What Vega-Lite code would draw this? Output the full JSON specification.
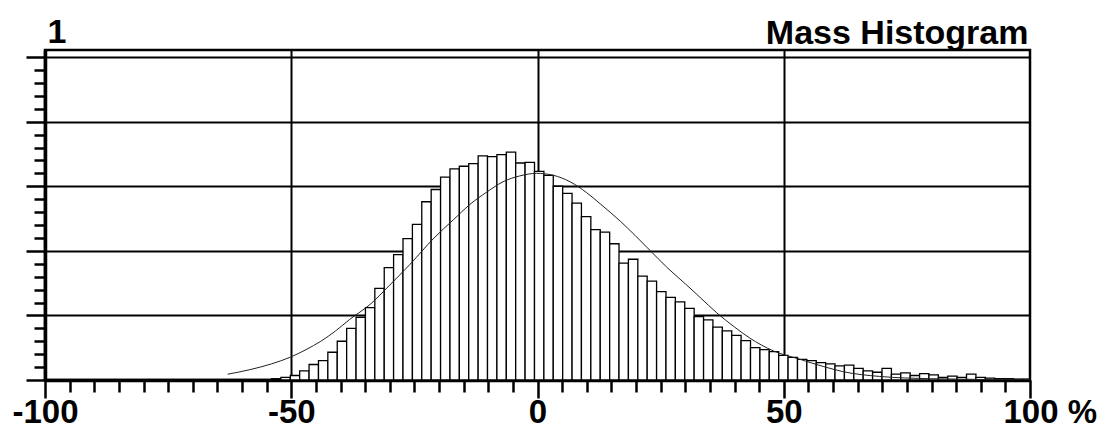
{
  "$schema": "https://vega.github.io/schema/vega-lite/v6.json",
  "width": 985,
  "height": 330,
  "autosize": {"type": "none"},
  "padding": {"left": 45, "top": 50, "right": 80, "bottom": 50},
  "background": "white",
  "config": {
    "view": {"stroke": "black", "strokeWidth": 2.5},
    "axis": {"labelFont": "Liberation Sans", "titleFont": "Liberation Sans", "labelColor": "black", "titleColor": "black"}
  },
  "datasets": {
    "bars": [
      {"a": -54.01, "b": -52.10, "n": 0.02},
      {"a": -52.10, "b": -50.19, "n": 0.04},
      {"a": -50.19, "b": -48.29, "n": 0.07},
      {"a": -48.29, "b": -46.38, "n": 0.14},
      {"a": -46.38, "b": -44.47, "n": 0.24},
      {"a": -44.47, "b": -42.57, "n": 0.30},
      {"a": -42.57, "b": -40.66, "n": 0.43},
      {"a": -40.66, "b": -38.75, "n": 0.60},
      {"a": -38.75, "b": -36.84, "n": 0.80},
      {"a": -36.84, "b": -34.94, "n": 0.97},
      {"a": -34.94, "b": -33.03, "n": 1.12},
      {"a": -33.03, "b": -31.12, "n": 1.42},
      {"a": -31.12, "b": -29.22, "n": 1.74},
      {"a": -29.22, "b": -27.31, "n": 1.94},
      {"a": -27.31, "b": -25.40, "n": 2.19},
      {"a": -25.40, "b": -23.50, "n": 2.41},
      {"a": -23.50, "b": -21.59, "n": 2.76},
      {"a": -21.59, "b": -19.68, "n": 2.95},
      {"a": -19.68, "b": -17.77, "n": 3.14},
      {"a": -17.77, "b": -15.87, "n": 3.27},
      {"a": -15.87, "b": -13.96, "n": 3.31},
      {"a": -13.96, "b": -12.05, "n": 3.35},
      {"a": -12.05, "b": -10.15, "n": 3.47},
      {"a": -10.15, "b": -8.24, "n": 3.46},
      {"a": -8.24, "b": -6.33, "n": 3.49},
      {"a": -6.33, "b": -4.43, "n": 3.53},
      {"a": -4.43, "b": -2.52, "n": 3.36},
      {"a": -2.52, "b": -0.61, "n": 3.37},
      {"a": -0.61, "b": 1.30, "n": 3.23},
      {"a": 1.30, "b": 3.20, "n": 3.17},
      {"a": 3.20, "b": 5.11, "n": 3.00},
      {"a": 5.11, "b": 7.02, "n": 2.89},
      {"a": 7.02, "b": 8.92, "n": 2.74},
      {"a": 8.92, "b": 10.83, "n": 2.53},
      {"a": 10.83, "b": 12.74, "n": 2.33},
      {"a": 12.74, "b": 14.65, "n": 2.29},
      {"a": 14.65, "b": 16.55, "n": 2.11},
      {"a": 16.55, "b": 18.46, "n": 1.81},
      {"a": 18.46, "b": 20.37, "n": 1.87},
      {"a": 20.37, "b": 22.27, "n": 1.61},
      {"a": 22.27, "b": 24.18, "n": 1.53},
      {"a": 24.18, "b": 26.09, "n": 1.37},
      {"a": 26.09, "b": 27.99, "n": 1.28},
      {"a": 27.99, "b": 29.90, "n": 1.21},
      {"a": 29.90, "b": 31.81, "n": 1.11},
      {"a": 31.81, "b": 33.72, "n": 0.98},
      {"a": 33.72, "b": 35.62, "n": 0.93},
      {"a": 35.62, "b": 37.53, "n": 0.82},
      {"a": 37.53, "b": 39.44, "n": 0.76},
      {"a": 39.44, "b": 41.34, "n": 0.69},
      {"a": 41.34, "b": 43.25, "n": 0.61},
      {"a": 43.25, "b": 45.16, "n": 0.50},
      {"a": 45.16, "b": 47.06, "n": 0.47},
      {"a": 47.06, "b": 48.97, "n": 0.44},
      {"a": 48.97, "b": 50.88, "n": 0.38},
      {"a": 50.88, "b": 52.79, "n": 0.35},
      {"a": 52.79, "b": 54.69, "n": 0.32},
      {"a": 54.69, "b": 56.60, "n": 0.30},
      {"a": 56.60, "b": 58.51, "n": 0.27},
      {"a": 58.51, "b": 60.41, "n": 0.25},
      {"a": 60.41, "b": 62.32, "n": 0.22},
      {"a": 62.32, "b": 64.23, "n": 0.23},
      {"a": 64.23, "b": 66.13, "n": 0.18},
      {"a": 66.13, "b": 68.04, "n": 0.14},
      {"a": 68.04, "b": 69.95, "n": 0.12},
      {"a": 69.95, "b": 71.86, "n": 0.18},
      {"a": 71.86, "b": 73.76, "n": 0.09},
      {"a": 73.76, "b": 75.67, "n": 0.11},
      {"a": 75.67, "b": 77.58, "n": 0.07},
      {"a": 77.58, "b": 79.48, "n": 0.10},
      {"a": 79.48, "b": 81.39, "n": 0.08},
      {"a": 81.39, "b": 83.30, "n": 0.04},
      {"a": 83.30, "b": 85.20, "n": 0.06},
      {"a": 85.20, "b": 87.11, "n": 0.04},
      {"a": 87.11, "b": 89.02, "n": 0.09},
      {"a": 89.02, "b": 90.93, "n": 0.04},
      {"a": 90.93, "b": 92.83, "n": 0.03},
      {"a": 92.83, "b": 94.74, "n": 0.02},
      {"a": 94.74, "b": 96.65, "n": 0.02},
      {"a": 96.65, "b": 98.55, "n": 0.01},
      {"a": 98.55, "b": 100.0, "n": 0.01}
    ],
    "curve": [
      {"x": -62.9, "y": 0.09},
      {"x": -58.4, "y": 0.16},
      {"x": -54.0, "y": 0.25},
      {"x": -50.3, "y": 0.35},
      {"x": -47.0, "y": 0.47},
      {"x": -44.0, "y": 0.60},
      {"x": -41.0, "y": 0.76},
      {"x": -38.1, "y": 0.94},
      {"x": -34.0, "y": 1.17},
      {"x": -30.0, "y": 1.47},
      {"x": -25.9, "y": 1.79},
      {"x": -21.0, "y": 2.20},
      {"x": -17.1, "y": 2.48},
      {"x": -13.7, "y": 2.72},
      {"x": -10.3, "y": 2.91},
      {"x": -7.0, "y": 3.07},
      {"x": -3.6, "y": 3.16},
      {"x": -0.2, "y": 3.20},
      {"x": 3.2, "y": 3.17},
      {"x": 6.6, "y": 3.07},
      {"x": 10.0, "y": 2.90},
      {"x": 12.7, "y": 2.73},
      {"x": 16.8, "y": 2.46},
      {"x": 19.8, "y": 2.24},
      {"x": 22.8, "y": 2.01},
      {"x": 26.2, "y": 1.75},
      {"x": 30.0, "y": 1.49},
      {"x": 33.0, "y": 1.28},
      {"x": 36.4, "y": 1.04},
      {"x": 40.0, "y": 0.82},
      {"x": 43.1, "y": 0.65},
      {"x": 47.9, "y": 0.45},
      {"x": 53.3, "y": 0.32},
      {"x": 58.0, "y": 0.21},
      {"x": 62.0, "y": 0.13},
      {"x": 69.5, "y": 0.055},
      {"x": 80.0, "y": 0.02},
      {"x": 100.0, "y": 0.003}
    ]
  },
  "layer": [
    {
      "data": {"name": "bars"},
      "mark": {"type": "bar", "fill": "white", "stroke": "black", "strokeWidth": 1.3, "clip": true},
      "encoding": {
        "x": {
          "field": "a", "type": "quantitative",
          "scale": {"domain": [-100, 100], "nice": false, "zero": false},
          "axis": {
            "values": [-100, -95, -90, -85, -80, -75, -70, -65, -60, -55, -50, -45, -40, -35, -30, -25, -20, -15, -10, -5, 0, 5, 10, 15, 20, 25, 30, 35, 40, 45, 50, 55, 60, 65, 70, 75, 80, 85, 90, 95, 100],
            "tickCount": 500,
            "labelExpr": "datum.value % 50 === 0 ? (datum.value === 100 ? '100 %' : '' + datum.value) : ''",
            "labelAlign": {"condition": {"test": "datum.value === 100", "value": "left"}, "value": "center"},
            "labelOffset": {"condition": {"test": "datum.value === 100", "value": -27}, "value": 0},
            "labelFontSize": 33,
            "labelFontWeight": "bold",
            "labelBaseline": "alphabetic",
            "labelPadding": 24,
            "labelFlush": false,
            "labelOverlap": false,
            "domainColor": "black",
            "domainWidth": 3.5,
            "tickColor": "black",
            "tickWidth": 2.5,
            "tickSize": {"condition": {"test": "datum.value % 50 === 0", "value": 18}, "value": 12},
            "grid": true,
            "gridColor": "black",
            "gridWidth": 2,
            "gridOpacity": {"condition": {"test": "datum.value % 50 === 0 && datum.value > -100 && datum.value < 100", "value": 1}, "value": 0},
            "title": "Mass Histogram",
            "titleFontSize": 34,
            "titleFontWeight": "bold",
            "titleAngle": 0,
            "titleAlign": "right",
            "titleBaseline": "alphabetic",
            "titleX": 983,
            "titleY": -337
          }
        },
        "x2": {"field": "b"},
        "y": {
          "field": "n", "type": "quantitative",
          "scale": {"domain": [0, 5.11], "nice": false, "zero": true},
          "axis": {
            "values": [0, 0.2, 0.4, 0.6, 0.8, 1, 1.2, 1.4, 1.6, 1.8, 2, 2.2, 2.4, 2.6, 2.8, 3, 3.2, 3.4, 3.6, 3.8, 4, 4.2, 4.4, 4.6, 4.8, 5],
            "tickCount": 500,
            "labels": false,
            "domainColor": "black",
            "domainWidth": 3.5,
            "tickColor": "black",
            "tickWidth": 2.5,
            "tickSize": {"condition": {"test": "datum.value === round(datum.value)", "value": 19}, "value": 11},
            "grid": true,
            "gridColor": "black",
            "gridWidth": 2,
            "gridOpacity": {"condition": {"test": "datum.value === round(datum.value)", "value": 1}, "value": 0},
            "title": "1",
            "titleAngle": 0,
            "titleAlign": "left",
            "titleBaseline": "alphabetic",
            "titleX": 2,
            "titleY": -8,
            "titleFontSize": 34,
            "titleFontWeight": "bold"
          }
        },
        "y2": {"datum": 0}
      }
    },
    {
      "data": {"name": "curve"},
      "mark": {"type": "line", "color": "#222222", "strokeWidth": 1, "interpolate": "monotone", "clip": true},
      "encoding": {
        "x": {"field": "x", "type": "quantitative"},
        "y": {"field": "y", "type": "quantitative"}
      }
    }
  ]
}
